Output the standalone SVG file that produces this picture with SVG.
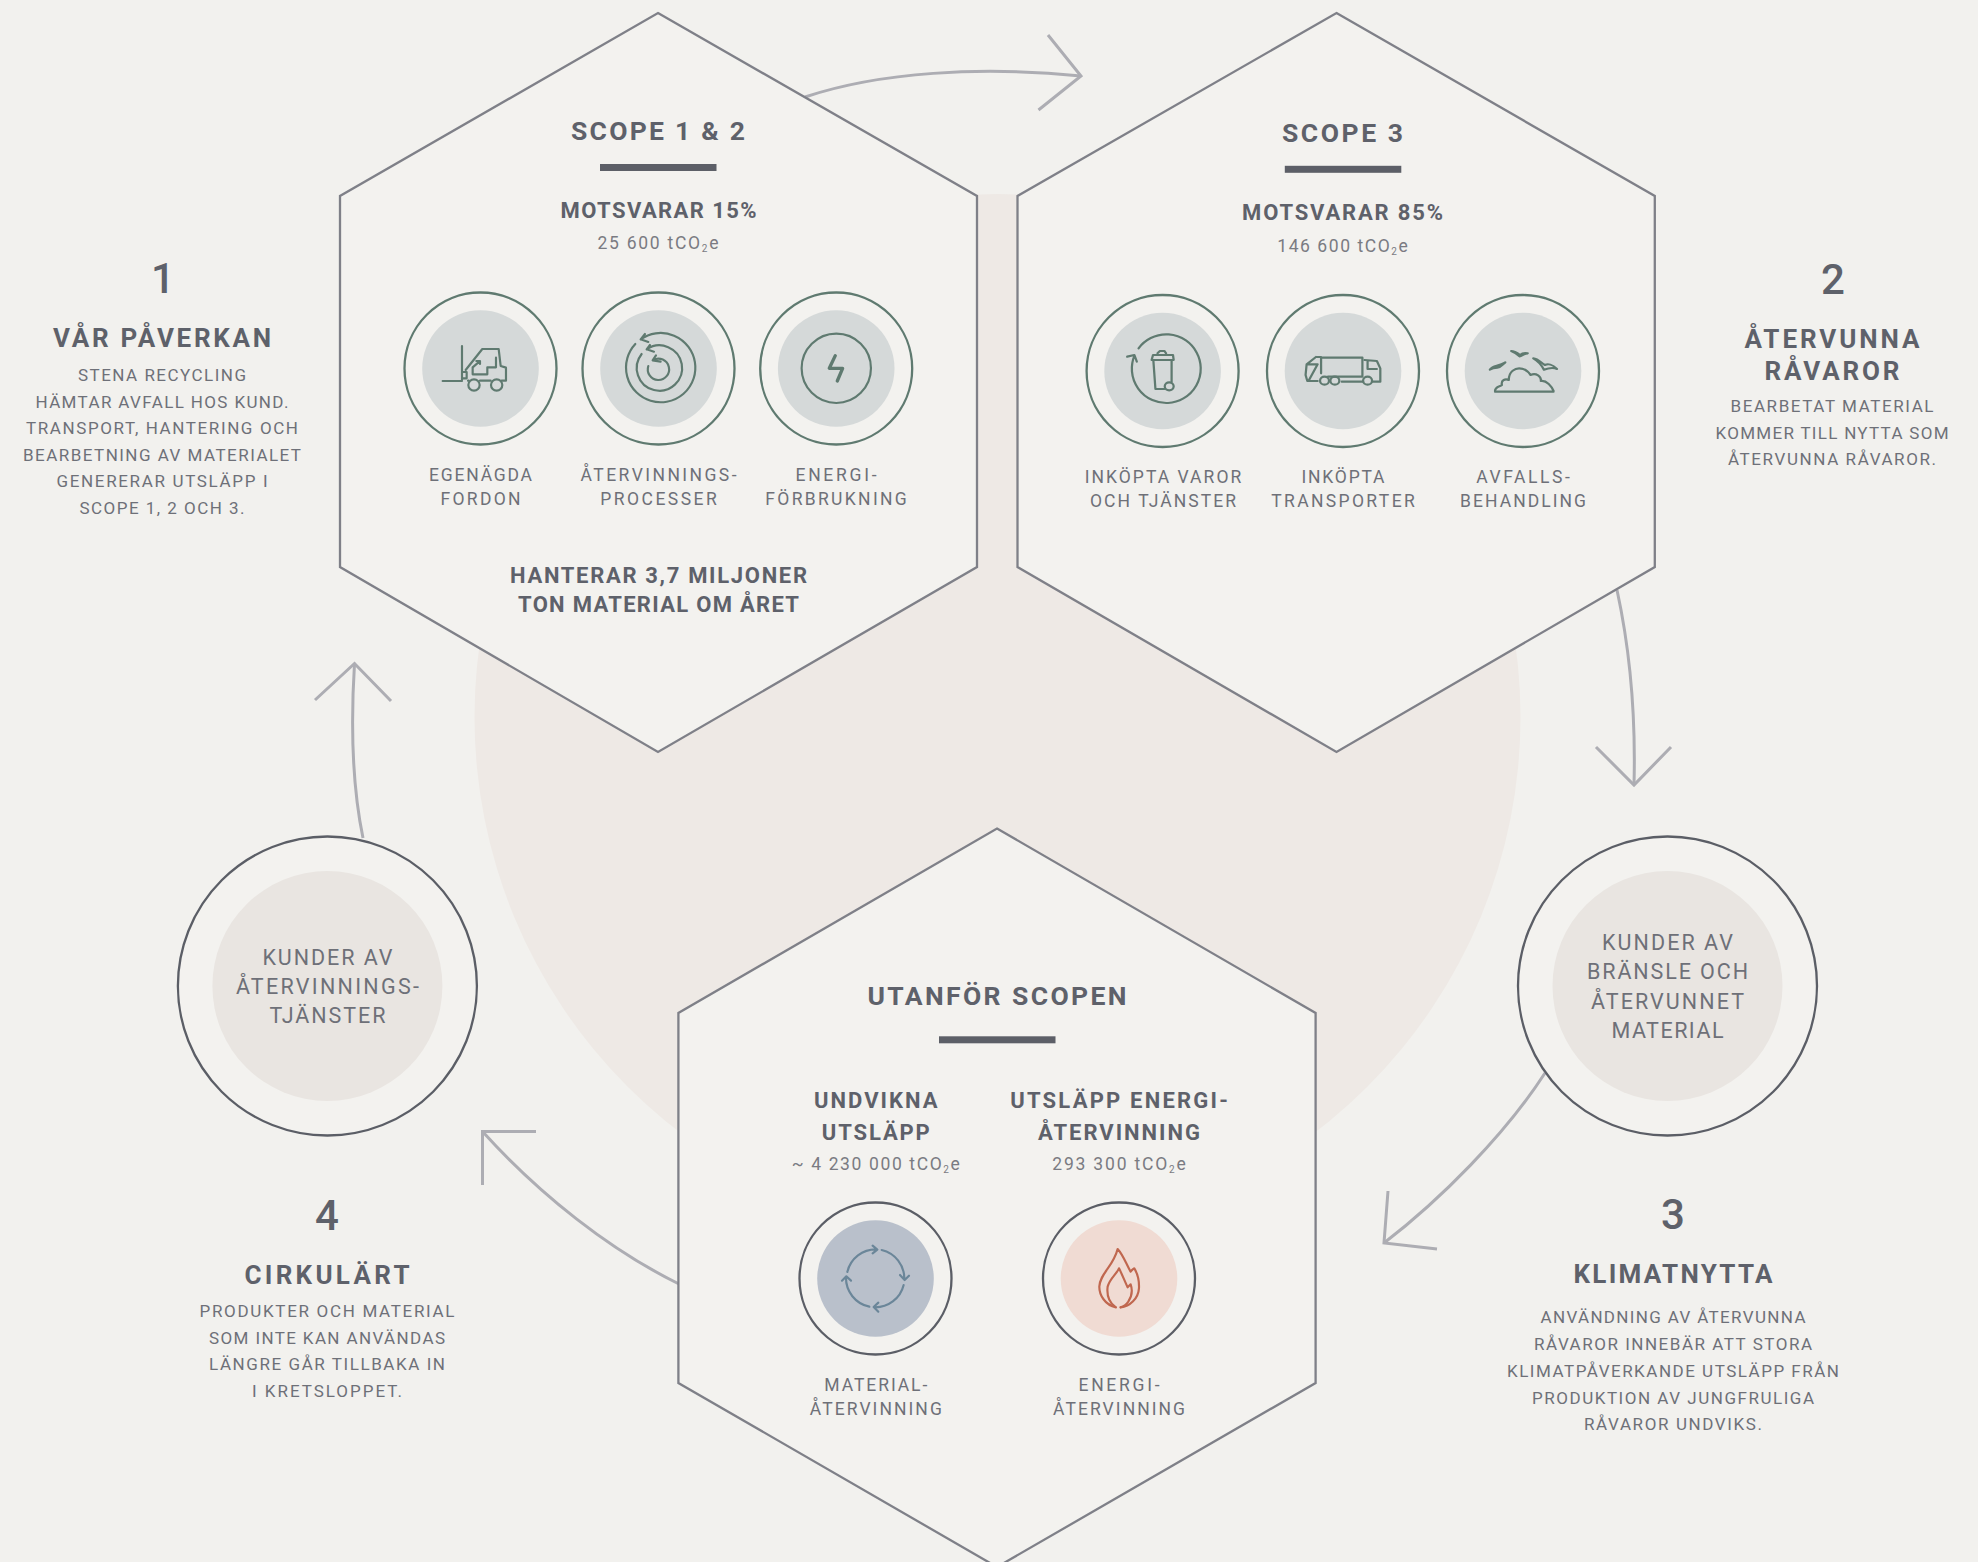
<svg xmlns="http://www.w3.org/2000/svg" width="1978" height="1562" viewBox="0 0 1978 1562">
<style>
text{font-family:"Roboto","Liberation Sans",sans-serif;text-anchor:middle;fill:#6e7078}
.h{font-weight:700;font-size:26.500px;fill:#5e616a}
.s{font-weight:700;font-size:22px;fill:#5e616a}
.t{font-weight:700;font-size:26px;fill:#5e616a}
.n{font-weight:500;font-size:42px;fill:#5e616a}
.b{font-size:17px}
.l{font-size:17.500px}
.c{font-size:17.500px;fill:#7a7b82}
.k{font-size:21.500px}
.hex{fill:#f3f2ef;stroke:#7f8088;stroke-width:2.300}
.bar{fill:#5c5f67}
.o{fill:#f3f2ef;stroke-width:2.300}
.gr{stroke:#5f7a70}.dk{stroke:#5b5e66}
.igr{fill:#d5d9d9}.ibl{fill:#b9c0cb}.ipe{fill:#f0dbd3}.ibg{fill:#e9e5e1}
.ic{fill:none;stroke-width:6.500;stroke-linecap:round;stroke-linejoin:round}
.icg{stroke:#5f7a70}.icb{stroke:#6b8699}.icr{stroke:#c0674f}
.ar{fill:none;stroke:#adadb3;stroke-width:3}
</style>
<rect width="1978" height="1562" fill="#f2f1ee"/>
<circle cx="997.500" cy="717" r="523" fill="#eee9e5"/>
<g id="connectors" class="ar">
<path d="M805 97C880 72 980 66 1081 76"/><path d="M1048 35L1081 76L1038.500 110"/>
<path d="M1617 590C1630 650 1636 710 1634 785"/><path d="M1596 747L1634 785L1671 747"/>
<path d="M1545 1073C1505 1135 1440 1200 1384 1243"/><path d="M1388 1191L1384 1243L1437 1249"/>
<path d="M679 1284C610 1250 540 1195 482.500 1131.500"/><path d="M536 1131.500H482.500V1185"/>
<path d="M363 838C351 780 351 720 354.500 663.500"/><path d="M315 700L354.500 663.500L391 701"/>
</g>
<g id="hex-scope12">
<polygon class="hex" points="658,13 977,196 977,567 658,752 340,567 340,196"/>
<text class="h" x="658" y="140" textLength="174">SCOPE 1 &amp; 2</text>
<rect class="bar" x="600" y="164" width="116.500" height="7"/>
<text class="s" x="658.500" y="218" textLength="196">MOTSVARAR 15%</text>
<text class="c" x="658" y="249" textLength="121">25 600 tCO<tspan font-size="10" dy="3">2</tspan><tspan dy="-3">e</tspan></text>
<text class="l" x="480.500" y="481" textLength="103">EGENÄGDA</text>
<text class="l" x="480.500" y="505" textLength="80">FORDON</text>
<text class="l" x="658.500" y="481" textLength="156">ÅTERVINNINGS-</text>
<text class="l" x="658.500" y="505" textLength="116.500">PROCESSER</text>
<text class="l" x="836" y="481" textLength="81">ENERGI-</text>
<text class="l" x="836" y="505" textLength="141.500">FÖRBRUKNING</text>
<text class="s" x="658.500" y="582.500" textLength="297">HANTERAR 3,7 MILJONER</text>
<text class="s" x="658.500" y="611.500" textLength="281">TON MATERIAL OM ÅRET</text>
</g>
<g id="icon-forklift">
<circle class="o gr" cx="480.500" cy="368.500" r="76"/><circle class="igr" cx="480.500" cy="368.500" r="58.300"/>
<g class="ic icg" transform="translate(400 280) scale(.3333)">
<path d="M186 198V300M128 303H186M186 276H200V295H186"/>
<path d="M197 270L247 207H296L302 258L318 263V302H305M204 302H206M240 302H272"/>
<path d="M218 283V262L238 245M229 243H240V252M218 283H262V262H288V233"/>
<circle cx="222" cy="315" r="17"/><circle cx="290" cy="315" r="17"/>
</g></g>
<g id="icon-spiral">
<circle class="o gr" cx="658.500" cy="368.500" r="76"/><circle class="igr" cx="658.500" cy="368.500" r="58.300"/>
<g class="ic icg" transform="translate(400 280) scale(.3333)">
<path d="M722 178A104 104 0 1 1 706 192M735 162L722 178L745 186"/>
<path d="M740 208A68 68 0 1 1 725 222M750 195L740 208L762 215"/>
<path d="M760 240A32 32 0 1 1 745 258M768 226L758 241L782 245"/>
</g></g>
<g id="icon-bolt">
<circle class="o gr" cx="836.200" cy="368.500" r="76"/><circle class="igr" cx="836.200" cy="368.500" r="58.300"/>
<g class="ic icg" transform="translate(400 280) scale(.3333)">
<circle cx="1309" cy="265" r="104"/>
<path d="M1306 227L1288 265H1328L1312 303" stroke-width="10"/>
</g></g>
<g id="hex-scope3">
<polygon class="hex" points="1336.500,13 1654.800,196 1654.800,567 1336.500,752 1017.500,567 1017.500,196"/>
<text class="h" x="1342.500" y="142" textLength="121">SCOPE 3</text>
<rect class="bar" x="1284.800" y="165.800" width="116.500" height="7"/>
<text class="s" x="1342.500" y="220" textLength="200.800">MOTSVARAR 85%</text>
<text class="c" x="1342.500" y="252" textLength="130.500">146 600 tCO<tspan font-size="10" dy="3">2</tspan><tspan dy="-3">e</tspan></text>
<text class="l" x="1163" y="483" textLength="156.500">INKÖPTA VAROR</text>
<text class="l" x="1163" y="507" textLength="146">OCH TJÄNSTER</text>
<text class="l" x="1343" y="483" textLength="83">INKÖPTA</text>
<text class="l" x="1343" y="507" textLength="143.500">TRANSPORTER</text>
<text class="l" x="1523" y="483" textLength="93.500">AVFALLS-</text>
<text class="l" x="1523" y="507" textLength="126">BEHANDLING</text>
</g>
<g id="icon-bin">
<circle class="o gr" cx="1162.600" cy="371" r="76"/><circle class="igr" cx="1162.600" cy="371" r="58.300"/>
<g class="ic icg" transform="translate(1080 285) scale(.3444 .3333)">
<path d="M158 212A100 103 0 1 0 170 190M137 215L158 210L165 230"/>
<path d="M208 225L212 210H270L272 225ZM225 205L232 198H245L250 205"/>
<path d="M213 226L219 312H245M266 226V290"/><ellipse cx="259" cy="304" rx="13" ry="12"/>
</g></g>
<g id="icon-truck">
<circle class="o gr" cx="1343" cy="371" r="76"/><circle class="igr" cx="1343" cy="371" r="58.300"/>
<g class="ic icg" transform="translate(1080 285) scale(.3444 .3333)">
<path d="M700 218H820V275H720M700 218V265M685 216H700M685 216L658 238L655 270L660 288H690M658 238H690L665 285"/>
<path d="M760 290H822M826 225L862 228L872 250V290H850M835 230V252H862"/>
<ellipse cx="710" cy="287" rx="13" ry="12"/><ellipse cx="740" cy="287" rx="13" ry="12"/><ellipse cx="835" cy="287" rx="13" ry="12"/>
</g></g>
<g id="icon-cloud">
<circle class="o gr" cx="1523" cy="371" r="76"/><circle class="igr" cx="1523" cy="371" r="58.300"/>
<g class="ic icg" transform="translate(1080 285) scale(.3444 .3333)">
<path d="M1205 320H1375M1205 318C1205 305 1220 305 1225 300C1222 285 1235 280 1245 285C1245 258 1265 250 1275 250C1295 250 1305 265 1308 270C1325 262 1340 275 1338 288C1355 285 1370 305 1375 318"/>
<path d="M1190 254C1200 240 1212 246 1235 232C1225 240 1222 248 1212 248C1204 248 1196 250 1190 254Z"/>
<path d="M1252 198C1262 198 1270 204 1278 210C1284 204 1290 203 1300 205C1290 206 1284 212 1276 214C1270 208 1262 202 1252 198Z"/>
<path d="M1316 220C1332 222 1340 235 1350 240C1358 236 1372 238 1385 252C1372 246 1358 250 1347 254C1340 240 1330 228 1316 220Z"/>
</g></g>
<g id="hex-outside">
<polygon class="hex" points="997,828.500 1315.600,1013 1315.600,1383 997,1567 678.400,1383 678.400,1013"/>
<text class="h" x="997" y="1005" textLength="259">UTANFÖR SCOPEN</text>
<rect class="bar" x="939" y="1036.300" width="116.500" height="7"/>
<text class="s" x="875.800" y="1108" textLength="123.700">UNDVIKNA</text>
<text class="s" x="875.800" y="1139.500" textLength="108">UTSLÄPP</text>
<text class="s" x="1119" y="1108" textLength="217.600">UTSLÄPP ENERGI-</text>
<text class="s" x="1119" y="1139.500" textLength="162">ÅTERVINNING</text>
<text class="c" x="875.800" y="1170" textLength="168">~ 4 230 000 tCO<tspan font-size="10" dy="3">2</tspan><tspan dy="-3">e</tspan></text>
<text class="c" x="1119" y="1170" textLength="133.400">293 300 tCO<tspan font-size="10" dy="3">2</tspan><tspan dy="-3">e</tspan></text>
<text class="l" x="875.800" y="1391" textLength="103">MATERIAL-</text>
<text class="l" x="875.800" y="1415" textLength="132">ÅTERVINNING</text>
<text class="l" x="1119" y="1391" textLength="81">ENERGI-</text>
<text class="l" x="1119" y="1415" textLength="132">ÅTERVINNING</text>
</g>
<g id="icon-recycle">
<circle class="o dk" cx="875.500" cy="1278.500" r="76"/><circle class="ibl" cx="875.500" cy="1278.500" r="58.300"/>
<g class="ic icb" transform="translate(780 1190) scale(.3333)">
<path d="M202 246A88 88 0 0 1 290 178M278 167L292 179L278 190"/>
<path d="M305 180A88 88 0 0 1 373 268M360 255L374 270L387 257"/>
<path d="M371 285A88 88 0 0 1 282 352M295 338L281 351L295 365"/>
<path d="M268 350A88 88 0 0 1 198 262M186 272L199 259L213 272"/>
</g></g>
<g id="icon-flame">
<circle class="o dk" cx="1119" cy="1278.500" r="76"/><circle class="ipe" cx="1119" cy="1278.500" r="58.300"/>
<g class="ic icr" transform="translate(780 1190) scale(.3333)">
<path d="M1008 352C975 345 958 315 958 290C960 250 1000 230 1013 177C1030 195 1040 225 1052 245C1056 240 1060 235 1063 235C1075 255 1078 275 1077 295C1075 325 1050 350 1022 352"/>
<path d="M1005 350C985 335 980 315 983 290C990 265 1008 255 1017 235C1025 250 1035 275 1043 292L1052 283C1058 300 1055 320 1045 335C1038 345 1030 350 1022 352"/>
</g></g>
<g id="node-customers-left">
<circle class="o dk" cx="327.400" cy="986" r="149.500"/><circle class="ibg" cx="327.400" cy="986" r="115"/>
<text class="k" x="327.400" y="965" textLength="130">KUNDER AV</text>
<text class="k" x="327.400" y="994" textLength="183">ÅTERVINNINGS-</text>
<text class="k" x="327.400" y="1023" textLength="116">TJÄNSTER</text>
</g>
<g id="node-customers-right">
<circle class="o dk" cx="1667.500" cy="986" r="149.500"/><circle class="ibg" cx="1667.500" cy="986" r="115"/>
<text class="k" x="1667.500" y="950" textLength="131">KUNDER AV</text>
<text class="k" x="1667.500" y="979" textLength="161">BRÄNSLE OCH</text>
<text class="k" x="1667.500" y="1009" textLength="153">ÅTERVUNNET</text>
<text class="k" x="1667.500" y="1038" textLength="112">MATERIAL</text>
</g>
<g id="step-1">
<text class="n" x="163" y="293">1</text>
<text class="t" x="162" y="346.500" textLength="218">VÅR PÅVERKAN</text>
<text class="b" x="162" y="381" textLength="168">STENA RECYCLING</text>
<text class="b" x="162" y="407.500" textLength="253">HÄMTAR AVFALL HOS KUND.</text>
<text class="b" x="162" y="434" textLength="272">TRANSPORT, HANTERING OCH</text>
<text class="b" x="162" y="460.500" textLength="278">BEARBETNING AV MATERIALET</text>
<text class="b" x="162" y="487" textLength="211">GENERERAR UTSLÄPP I</text>
<text class="b" x="162" y="513.500" textLength="165">SCOPE 1, 2 OCH 3.</text>
</g>
<g id="step-2">
<text class="n" x="1833" y="294">2</text>
<text class="t" x="1832" y="347.500" textLength="175">ÅTERVUNNA</text>
<text class="t" x="1832" y="379.500" textLength="135">RÅVAROR</text>
<text class="b" x="1832" y="412" textLength="203">BEARBETAT MATERIAL</text>
<text class="b" x="1832" y="438.500" textLength="233">KOMMER TILL NYTTA SOM</text>
<text class="b" x="1832" y="465" textLength="208">ÅTERVUNNA RÅVAROR.</text>
</g>
<g id="step-3">
<text class="n" x="1673" y="1228.500">3</text>
<text class="t" x="1673" y="1283" textLength="199">KLIMATNYTTA</text>
<text class="b" x="1673" y="1323" textLength="265">ANVÄNDNING AV ÅTERVUNNA</text>
<text class="b" x="1673" y="1350" textLength="278">RÅVAROR INNEBÄR ATT STORA</text>
<text class="b" x="1673" y="1377" textLength="332">KLIMATPÅVERKANDE UTSLÄPP FRÅN</text>
<text class="b" x="1673" y="1403.500" textLength="282">PRODUKTION AV JUNGFRULIGA</text>
<text class="b" x="1673" y="1430" textLength="178">RÅVAROR UNDVIKS.</text>
</g>
<g id="step-4">
<text class="n" x="327" y="1230">4</text>
<text class="t" x="327" y="1284" textLength="165">CIRKULÄRT</text>
<text class="b" x="327" y="1317" textLength="255">PRODUKTER OCH MATERIAL</text>
<text class="b" x="327" y="1343.500" textLength="236">SOM INTE KAN ANVÄNDAS</text>
<text class="b" x="327" y="1370" textLength="236">LÄNGRE GÅR TILLBAKA IN</text>
<text class="b" x="327" y="1396.500" textLength="150">I KRETSLOPPET.</text>
</g>
</svg>
